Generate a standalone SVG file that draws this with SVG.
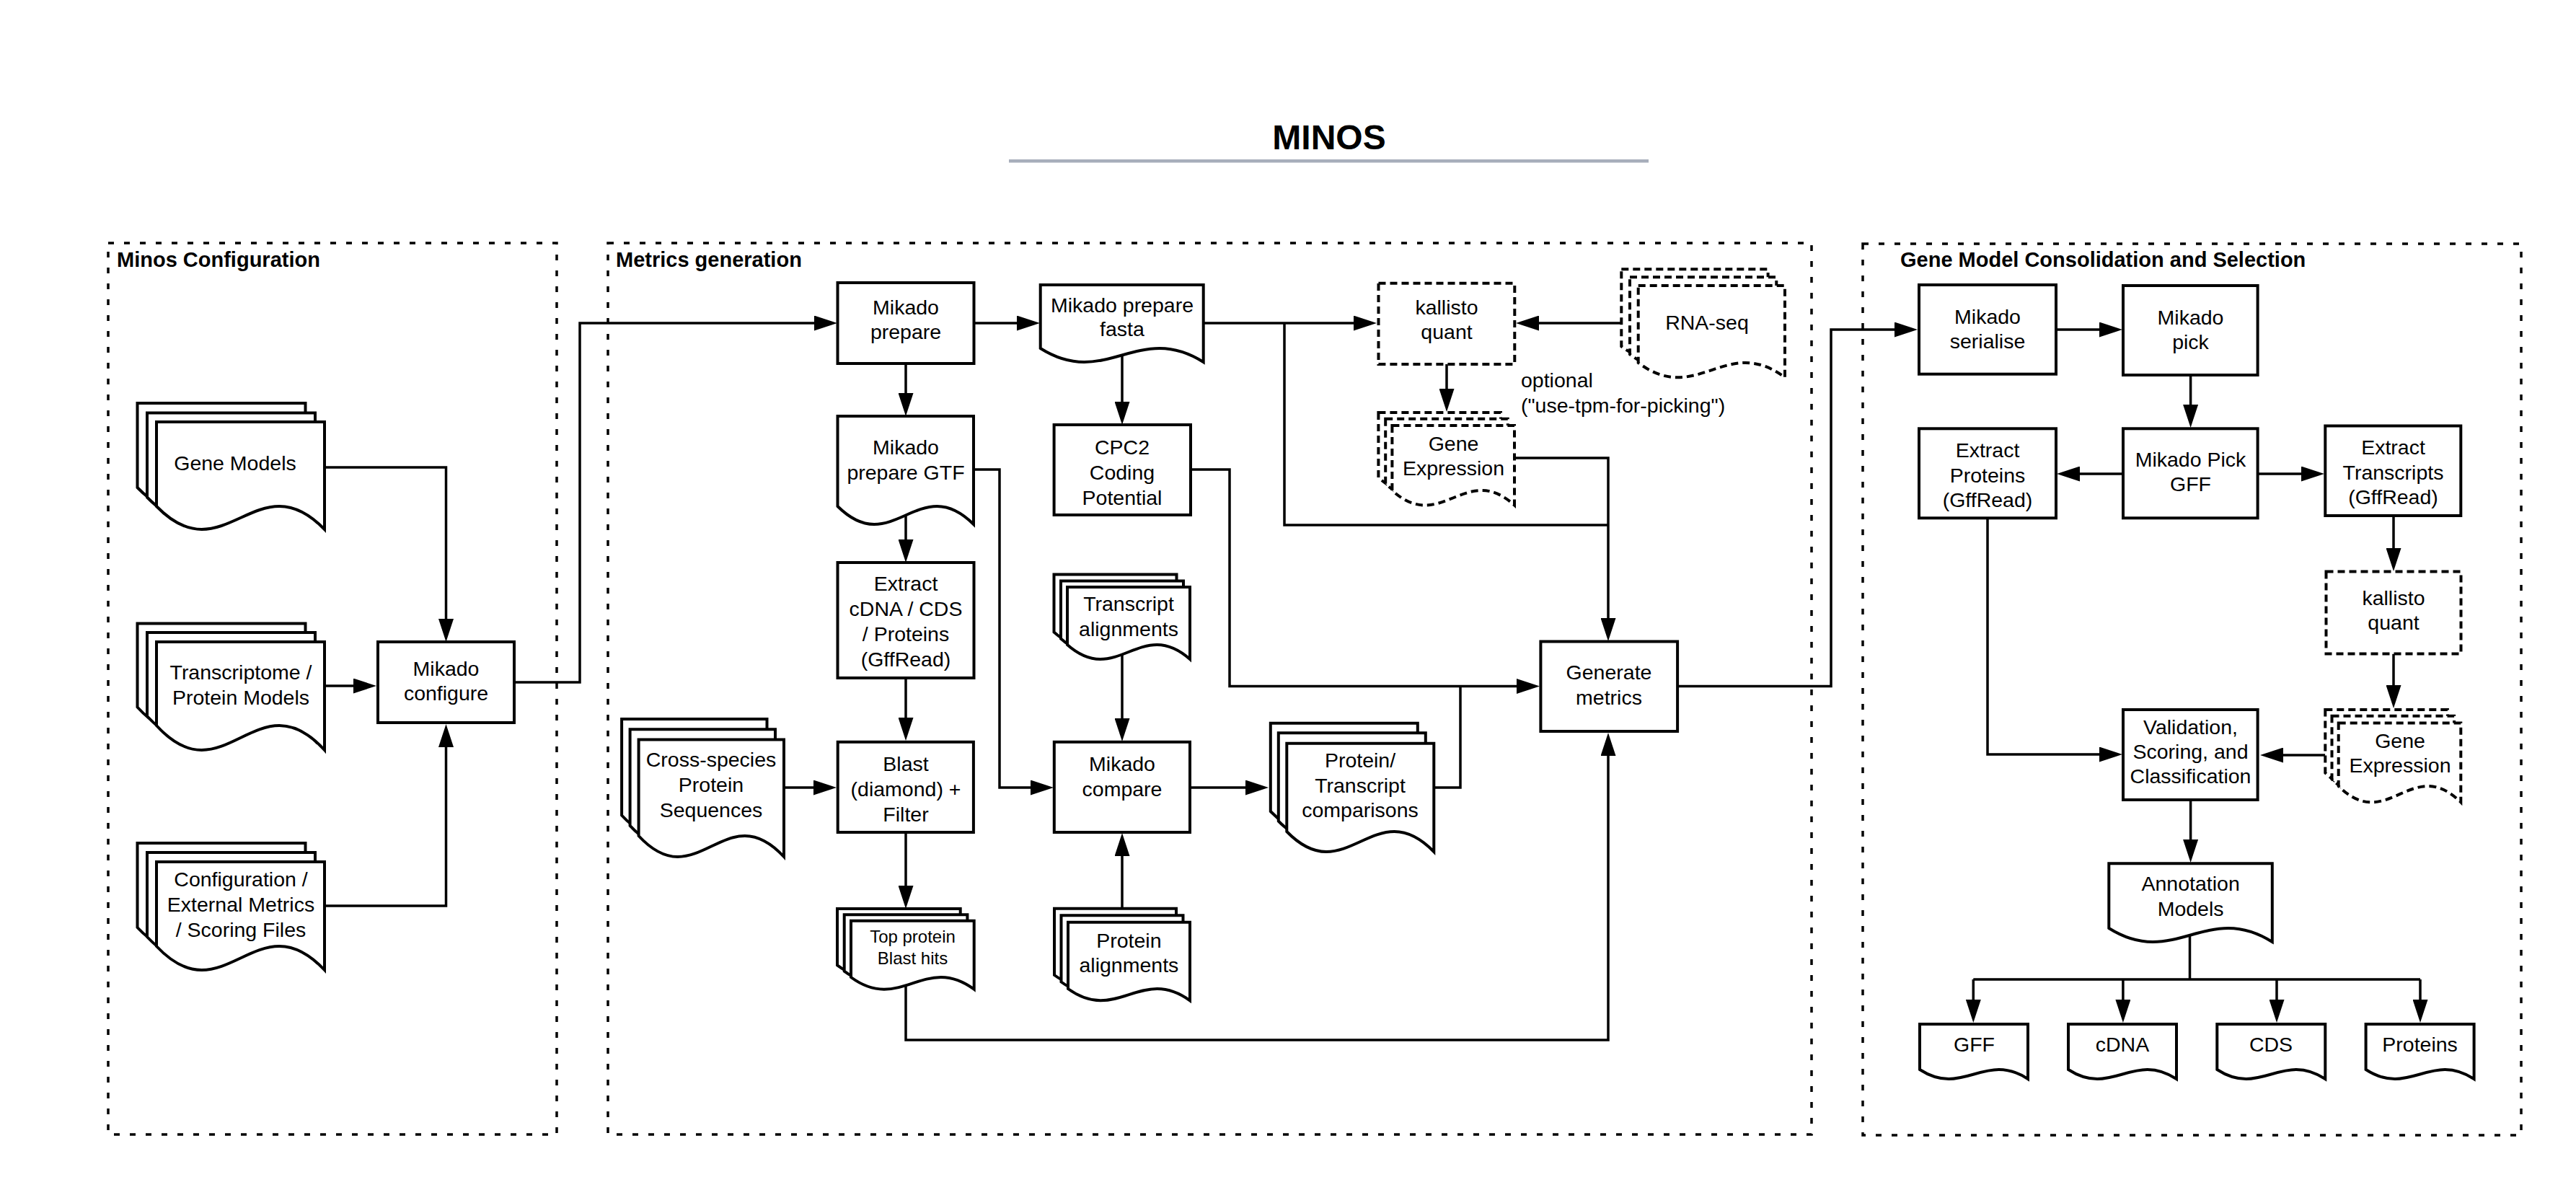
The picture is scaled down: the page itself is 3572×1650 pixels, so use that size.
<svg xmlns="http://www.w3.org/2000/svg" width="3572" height="1650" viewBox="0 0 3572 1650">
<style>
.n{fill:#fff;stroke:#000;stroke-width:4}
.d{stroke-dasharray:10 6}
.cont{fill:none;stroke:#000;stroke-width:3.5;stroke-dasharray:8 14}
.t{font-family:"Liberation Sans",Arial,sans-serif;font-size:28.5px;text-anchor:middle;fill:#000}
.s{font-size:24px}
.l{text-anchor:start}
.h{font-family:"Liberation Sans",Arial,sans-serif;font-size:29px;font-weight:bold;fill:#000}
.c{fill:none;stroke:#000;stroke-width:3.5}
.a{marker-end:url(#ah)}
</style>
<defs>
<marker id="ah" markerUnits="userSpaceOnUse" markerWidth="32" markerHeight="21" viewBox="0 0 32 21" refX="0" refY="10.5" orient="auto"><path d="M0 0 L32 10.5 L0 21 Z" fill="#000"/></marker>
</defs>
<rect width="3572" height="1650" fill="#fff"/>

<g id="title">
<text x="1843" y="207" style="font-family:'Liberation Sans',Arial,sans-serif;font-size:48px;font-weight:bold" text-anchor="middle">MINOS</text>
<rect x="1399" y="221" width="887" height="4.5" fill="#a7aebb"/>
</g>

<g id="containers">
<g id="minos-configuration"><rect class="cont" x="150" y="337" width="622" height="1236"/><text class="h" x="162" y="370">Minos Configuration</text></g>
<g id="metrics-generation"><rect class="cont" x="843" y="337" width="1669" height="1236"/><text class="h" x="854" y="370">Metrics generation</text></g>
<g id="gene-model-consolidation"><rect class="cont" x="2583" y="338" width="913" height="1236"/><text class="h" x="2635" y="370">Gene Model Consolidation and Selection</text></g>
</g>

<g id="connectors">
<path class="c a" d="M450 648 H618.5 V858"/>
<path class="c a" d="M450 951 H490"/>
<path class="c a" d="M450 1256 H618.5 V1036"/>
<path class="c a" d="M713 946 H804 V448 H1129"/>
<path class="c a" d="M1350.5 448 H1410"/>
<path class="c a" d="M1668.7 448 H1877"/>
<path class="c" d="M1781 448 V728 H2230"/>
<path class="c a" d="M2248.3 448 H2134"/>
<path class="c a" d="M2006 505 V539"/>
<path class="c a" d="M2100 635 H2230 V857"/>
<path class="c a" d="M1256 504 V545"/>
<path class="c a" d="M1256 714.5 V748"/>
<path class="c a" d="M1350 651 H1386 V1092 H1429"/>
<path class="c a" d="M1556 492.5 V557"/>
<path class="c a" d="M1651 651 H1705 V951.5 H2103"/>
<path class="c a" d="M1256 940 V995"/>
<path class="c a" d="M1087 1092 H1128"/>
<path class="c a" d="M1556 904 V996"/>
<path class="c a" d="M1556 1278.7 V1187"/>
<path class="c a" d="M1650 1092 H1727"/>
<path class="c" d="M1988.3 1092 H2025 V951.5"/>
<path class="c a" d="M1256 1365 V1442 H2230 V1048"/>
<path class="c a" d="M1256 1154 V1228"/>
<path class="c a" d="M2326 951.5 H2539 V457 H2627"/>
<path class="c a" d="M2851 457 H2911"/>
<path class="c a" d="M3037.6 520 V561"/>
<path class="c a" d="M2944 657 H2884"/>
<path class="c a" d="M3130.6 657 H3191"/>
<path class="c a" d="M3319 715 V760"/>
<path class="c a" d="M3319 906.5 V950"/>
<path class="c a" d="M3224.3 1047 H3166"/>
<path class="c a" d="M2756 718.4 V1046 H2911"/>
<path class="c a" d="M3037.6 1109 V1164"/>
<path class="c" d="M3036.5 1298 V1358 M2736.3 1358 H3356"/>
<path class="c a" d="M2736.3 1358 V1386"/>
<path class="c a" d="M2943.9 1358 V1386"/>
<path class="c a" d="M3157 1358 V1386"/>
<path class="c a" d="M3356 1358 V1386"/>
</g>

<g id="gene-models">
<path class="n" d="M190.5 559 H423.5 V708 C330.3 612 283.7 772 190.5 676 Z"/>
<path class="n" d="M204 572.5 H437 V721.5 C343.8 625.5 297.2 785.5 204 689.5 Z"/>
<path class="n" d="M217 585 H450 V734 C356.8 638 310.2 798 217 702 Z"/>
<text class="t" x="326" y="652">Gene Models</text>
</g>
<g id="transcriptome">
<path class="n" d="M190.5 864.5 H423.5 V1014.5 C330.3 912.5 283.7 1082.5 190.5 980.5 Z"/>
<path class="n" d="M204 877 H437 V1027 C343.8 925 297.2 1095 204 993 Z"/>
<path class="n" d="M217 890 H450 V1040 C356.8 938 310.2 1108 217 1006 Z"/>
<text class="t"><tspan x="334" y="942">Transcriptome /</tspan><tspan x="334" y="977">Protein Models</tspan></text>
</g>
<g id="configuration-files">
<path class="n" d="M190.5 1169 H423.5 V1319 C330.3 1220 283.7 1385 190.5 1286 Z"/>
<path class="n" d="M204 1182 H437 V1332 C343.8 1233 297.2 1398 204 1299 Z"/>
<path class="n" d="M217 1195 H450 V1345 C356.8 1246 310.2 1411 217 1312 Z"/>
<text class="t"><tspan x="334" y="1229">Configuration /</tspan><tspan x="334" y="1264">External Metrics</tspan><tspan x="334" y="1299">/ Scoring Files</tspan></text>
</g>
<g id="mikado-configure">
<rect class="n" x="524" y="890" width="189" height="112"/>
<text class="t"><tspan x="618.5" y="937">Mikado</tspan><tspan x="618.5" y="971">configure</tspan></text>
</g>

<g id="mikado-prepare">
<rect class="n" x="1161.5" y="392" width="189" height="112"/>
<text class="t"><tspan x="1256" y="436">Mikado</tspan><tspan x="1256" y="470">prepare</tspan></text>
</g>
<g id="mikado-prepare-fasta">
<path class="n" d="M1442.7 395 H1668.7 V502 C1578.3 445 1533.1 540 1442.7 483 Z"/>
<text class="t"><tspan x="1556" y="433">Mikado prepare</tspan><tspan x="1556" y="466">fasta</tspan></text>
</g>
<g id="mikado-prepare-gtf">
<path class="n" d="M1161.5 577 H1350 V727 C1274.6 652 1236.9 777 1161.5 702 Z"/>
<text class="t"><tspan x="1256" y="630">Mikado</tspan><tspan x="1256" y="665">prepare GTF</tspan></text>
</g>
<g id="extract-cdna">
<rect class="n" x="1161.5" y="780" width="189" height="160"/>
<text class="t"><tspan x="1256" y="819">Extract</tspan><tspan x="1256" y="854">cDNA / CDS</tspan><tspan x="1256" y="889">/ Proteins</tspan><tspan x="1256" y="923.5">(GffRead)</tspan></text>
</g>
<g id="cpc2">
<rect class="n" x="1461.6" y="589" width="189.4" height="125"/>
<text class="t"><tspan x="1556" y="629.5">CPC2</tspan><tspan x="1556" y="664.5">Coding</tspan><tspan x="1556" y="699.5">Potential</tspan></text>
</g>
<g id="transcript-alignments">
<path class="n" d="M1461.5 796.5 H1631.5 V896.5 C1563.5 836.5 1529.5 936.5 1461.5 876.5 Z"/>
<path class="n" d="M1471 805.5 H1641 V905.5 C1573 845.5 1539 945.5 1471 885.5 Z"/>
<path class="n" d="M1480 814 H1650 V914 C1582 854 1548 954 1480 894 Z"/>
<text class="t"><tspan x="1565" y="847">Transcript</tspan><tspan x="1565" y="882">alignments</tspan></text>
</g>
<g id="cross-species">
<path class="n" d="M862.1 996.9 H1063.5 V1159.5 C982.9 1072.5 942.7 1217.5 862.1 1130.5 Z"/>
<path class="n" d="M873.6 1011.2 H1075 V1173.8 C994.4 1086.8 954.2 1231.8 873.6 1144.8 Z"/>
<path class="n" d="M885.6 1025.4 H1087 V1188 C1006.4 1101 966.2 1246 885.6 1159 Z"/>
<text class="t"><tspan x="986" y="1063">Cross-species</tspan><tspan x="986" y="1098">Protein</tspan><tspan x="986" y="1133">Sequences</tspan></text>
</g>
<g id="blast">
<rect class="n" x="1161.7" y="1028.8" width="188.2" height="125.2"/>
<text class="t"><tspan x="1256" y="1069">Blast</tspan><tspan x="1256" y="1104">(diamond) +</tspan><tspan x="1256" y="1139">Filter</tspan></text>
</g>
<g id="mikado-compare">
<rect class="n" x="1461.8" y="1028.8" width="188.2" height="125.2"/>
<text class="t"><tspan x="1556" y="1069">Mikado</tspan><tspan x="1556" y="1104">compare</tspan></text>
</g>
<g id="protein-transcript-comparisons">
<path class="n" d="M1761.8 1002.8 H1965.8 V1153 C1884.2 1069 1843.4 1209 1761.8 1125 Z"/>
<path class="n" d="M1772.8 1016.3 H1976.8 V1166.5 C1895.2 1082.5 1854.4 1222.5 1772.8 1138.5 Z"/>
<path class="n" d="M1784.3 1030.8 H1988.3 V1181 C1906.7 1097 1865.9 1237 1784.3 1153 Z"/>
<text class="t"><tspan x="1886" y="1064">Protein/</tspan><tspan x="1886" y="1099">Transcript</tspan><tspan x="1886" y="1133">comparisons</tspan></text>
</g>
<g id="top-protein-blast-hits">
<path class="n" d="M1161 1260 H1331.7 V1355 C1263.4 1304.9 1229.3 1388.4 1161 1338.3 Z"/>
<path class="n" d="M1170.7 1268.3 H1341.4 V1363.3 C1273.1 1313.2 1239 1396.7 1170.7 1346.6 Z"/>
<path class="n" d="M1180 1276.7 H1350.7 V1371.7 C1282.4 1321.6 1248.3 1405.1 1180 1355 Z"/>
<text class="t s"><tspan x="1265.5" y="1306.7">Top protein</tspan><tspan x="1265.5" y="1336.7">Blast hits</tspan></text>
</g>
<g id="protein-alignments">
<path class="n" d="M1462 1259.7 H1631 V1368.3 C1563.4 1319.4 1529.6 1400.9 1462 1352 Z"/>
<path class="n" d="M1471.5 1269.2 H1640.5 V1377.8 C1572.9 1328.9 1539.1 1410.4 1471.5 1361.5 Z"/>
<path class="n" d="M1481 1278.7 H1650 V1387.3 C1582.4 1338.4 1548.6 1419.9 1481 1371 Z"/>
<text class="t"><tspan x="1565.4" y="1314">Protein</tspan><tspan x="1565.4" y="1348">alignments</tspan></text>
</g>
<g id="kallisto-quant">
<rect class="n d" x="1911.5" y="392.7" width="188.8" height="112.3"/>
<text class="t"><tspan x="2006" y="436">kallisto</tspan><tspan x="2006" y="470">quant</tspan></text>
</g>
<g id="rna-seq">
<path class="n d" d="M2248.3 373.3 H2451.6 V500.6 C2370.3 439.7 2329.6 541.2 2248.3 480.3 Z"/>
<path class="n d" d="M2260 384.3 H2463.3 V511.6 C2382 450.7 2341.3 552.2 2260 491.3 Z"/>
<path class="n d" d="M2271.7 396 H2475 V523.3 C2393.7 462.4 2353 563.9 2271.7 503 Z"/>
<text class="t" x="2367" y="457">RNA-seq</text>
</g>
<g id="gene-expression">
<path class="n d" d="M1911.4 572 H2081 V682.5 C2013.2 621 1979.2 723.5 1911.4 662 Z"/>
<path class="n d" d="M1921.2 580.8 H2090.8 V691.3 C2023 629.8 1989 732.3 1921.2 670.8 Z"/>
<path class="n d" d="M1930.4 590 H2100 V700.5 C2032.2 639 1998.2 741.5 1930.4 680 Z"/>
<text class="t"><tspan x="2015.5" y="625">Gene</tspan><tspan x="2015.5" y="659">Expression</tspan></text>
</g>
<g id="optional-label">
<text class="t l"><tspan x="2109" y="537">optional</tspan><tspan x="2109" y="572">("use-tpm-for-picking")</tspan></text>
</g>
<g id="generate-metrics">
<rect class="n" x="2136.4" y="889.5" width="189.7" height="124.5"/>
<text class="t"><tspan x="2231" y="942">Generate</tspan><tspan x="2231" y="977">metrics</tspan></text>
</g>

<g id="mikado-serialise">
<rect class="n" x="2661" y="395" width="190" height="123.7"/>
<text class="t"><tspan x="2756" y="449">Mikado</tspan><tspan x="2756" y="483">serialise</tspan></text>
</g>
<g id="mikado-pick">
<rect class="n" x="2944" y="396" width="186.6" height="124"/>
<text class="t"><tspan x="3037.5" y="449.5">Mikado</tspan><tspan x="3037.5" y="484">pick</tspan></text>
</g>
<g id="mikado-pick-gff">
<rect class="n" x="2944" y="594.3" width="186.6" height="124"/>
<text class="t"><tspan x="3037.5" y="647">Mikado Pick</tspan><tspan x="3037.5" y="681">GFF</tspan></text>
</g>
<g id="extract-proteins">
<rect class="n" x="2661" y="594.3" width="190" height="124"/>
<text class="t"><tspan x="2756" y="634">Extract</tspan><tspan x="2756" y="669">Proteins</tspan><tspan x="2756" y="703">(GffRead)</tspan></text>
</g>
<g id="extract-transcripts">
<rect class="n" x="3224.3" y="590.5" width="188" height="124.5"/>
<text class="t"><tspan x="3318.5" y="630">Extract</tspan><tspan x="3318.5" y="665">Transcripts</tspan><tspan x="3318.5" y="699">(GffRead)</tspan></text>
</g>
<g id="kallisto-quant-2">
<rect class="n d" x="3225.5" y="792.6" width="187" height="114"/>
<text class="t"><tspan x="3319" y="838.5">kallisto</tspan><tspan x="3319" y="872.5">quant</tspan></text>
</g>
<g id="gene-expression-2">
<path class="n d" d="M3224.3 984 H3393.9 V1094 C3326.1 1026.8 3292.1 1138.8 3224.3 1071.6 Z"/>
<path class="n d" d="M3233.5 992.7 H3403.1 V1102.7 C3335.3 1035.5 3301.3 1147.5 3233.5 1080.3 Z"/>
<path class="n d" d="M3242.7 1002.4 H3412.3 V1112.4 C3344.5 1045.2 3310.5 1157.2 3242.7 1090 Z"/>
<text class="t"><tspan x="3328" y="1036.5">Gene</tspan><tspan x="3328" y="1071">Expression</tspan></text>
</g>
<g id="validation">
<rect class="n" x="2944" y="984" width="186.6" height="125"/>
<text class="t"><tspan x="3037.5" y="1018">Validation,</tspan><tspan x="3037.5" y="1052">Scoring, and</tspan><tspan x="3037.5" y="1086">Classification</tspan></text>
</g>
<g id="annotation-models">
<path class="n" d="M2924.3 1197.3 H3150.8 V1306 C3060.2 1249 3014.9 1344 2924.3 1287 Z"/>
<text class="t"><tspan x="3037.6" y="1235">Annotation</tspan><tspan x="3037.6" y="1270">Models</tspan></text>
</g>
<g id="out-gff">
<path class="n" d="M2662 1420 H2812 V1496 C2752 1457 2722 1522 2662 1483 Z"/>
<text class="t" x="2737.5" y="1458">GFF</text>
</g>
<g id="out-cdna">
<path class="n" d="M2868 1420 H3018 V1496 C2958 1457 2928 1522 2868 1483 Z"/>
<text class="t" x="2943" y="1458">cDNA</text>
</g>
<g id="out-cds">
<path class="n" d="M3074.3 1420 H3224.3 V1496 C3164.3 1457 3134.3 1522 3074.3 1483 Z"/>
<text class="t" x="3149" y="1458">CDS</text>
</g>
<g id="out-proteins">
<path class="n" d="M3280.6 1420 H3430.6 V1496 C3370.6 1457 3340.6 1522 3280.6 1483 Z"/>
<text class="t" x="3355.6" y="1458">Proteins</text>
</g>
</svg>
